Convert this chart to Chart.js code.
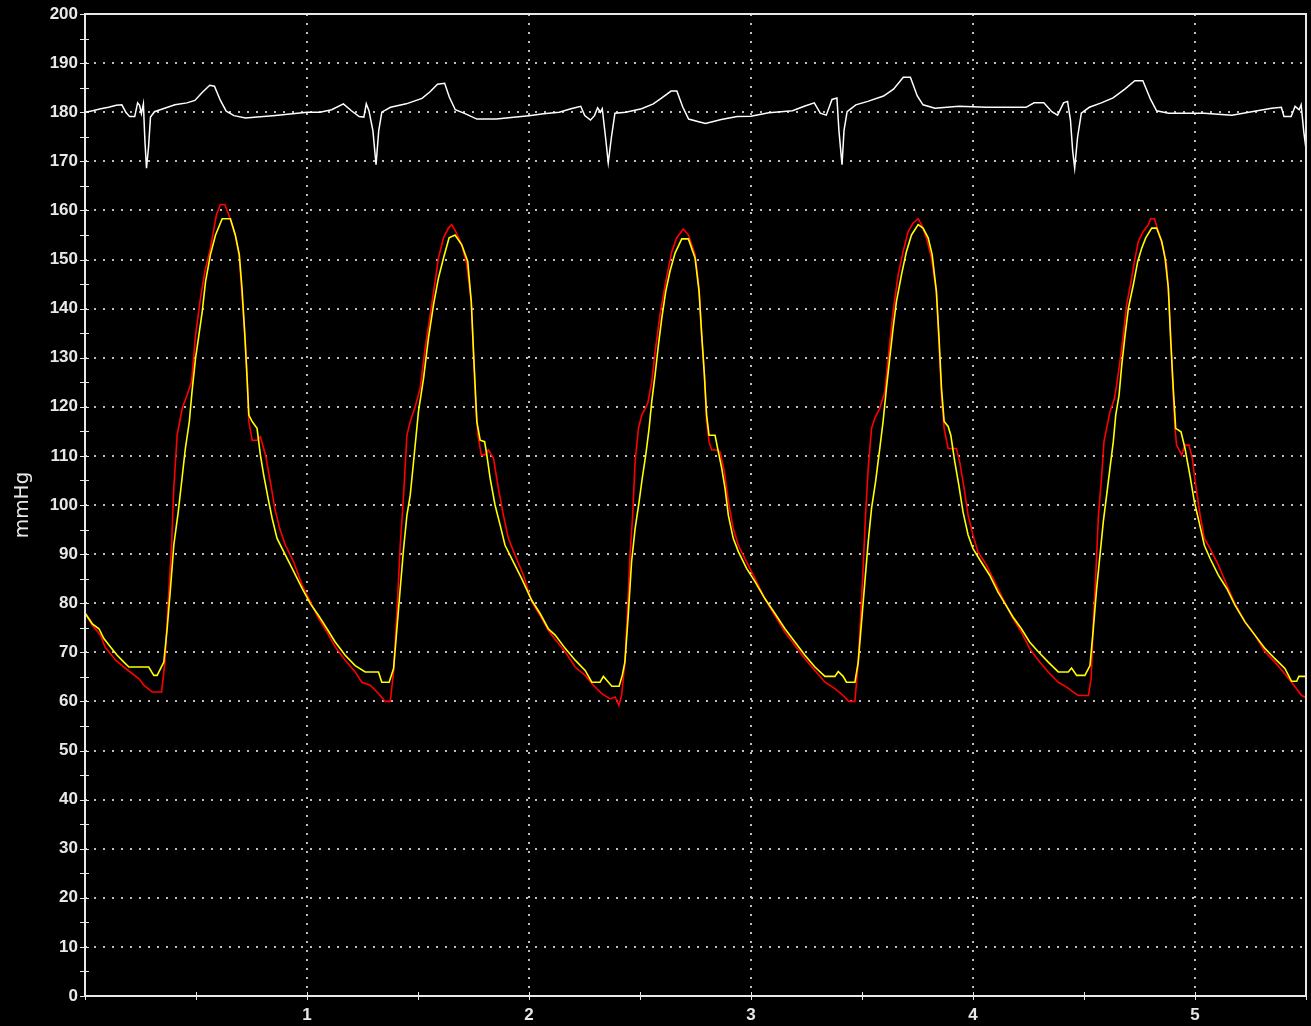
<!DOCTYPE html>
<html>
<head>
<meta charset="utf-8">
<title>mmHg</title>
<script src="https://cdn.jsdelivr.net/npm/chart.js@4.4.1/dist/chart.umd.min.js"></script>
<style>
  html, body { margin: 0; padding: 0; background: #000; }
  canvas { display: block; }
</style>
</head>
<body>
<canvas id="pressureChart" width="1311" height="1026"></canvas>
<script>
// ECG trace (white), seconds / mmHg scale
const ecgTime = [0, 0.035, 0.071, 0.106, 0.141, 0.166, 0.184, 0.201, 0.224, 0.237, 0.246, 0.254, 0.263, 0.27, 0.277, 0.286, 0.295, 0.313, 0.352, 0.405, 0.459, 0.495, 0.53, 0.562, 0.583, 0.61, 0.636, 0.671, 0.723, 0.776, 0.846, 0.935,
  1.0, 1.058, 1.111, 1.164, 1.2, 1.235, 1.256, 1.267, 1.279, 1.297, 1.311, 1.323, 1.337, 1.376, 1.447, 1.518, 1.553, 1.588, 1.62, 1.641, 1.668, 1.712, 1.765, 1.853, 1.942,
  2.0, 2.065, 2.136, 2.189, 2.233, 2.251, 2.277, 2.295, 2.309, 2.322, 2.33, 2.345, 2.357, 2.371, 2.387, 2.436, 2.507, 2.56, 2.595, 2.64, 2.666, 2.693, 2.719, 2.76, 2.795, 2.866, 2.938,
  3.0, 3.08, 3.187, 3.24, 3.285, 3.312, 3.339, 3.365, 3.387, 3.396, 3.41, 3.419, 3.433, 3.472, 3.526, 3.597, 3.642, 3.686, 3.718, 3.749, 3.775, 3.829, 3.936,
  4.061, 4.239, 4.275, 4.319, 4.355, 4.381, 4.408, 4.426, 4.439, 4.449, 4.458, 4.471, 4.488, 4.524, 4.578, 4.631, 4.684, 4.729, 4.765, 4.8, 4.827, 4.881, 4.952,
  5.041, 5.166, 5.255, 5.345, 5.389, 5.401, 5.433, 5.451, 5.469, 5.478, 5.49, 5.5];
const ecgValue = [180, 180.3, 180.7, 181, 181.4, 181.5, 180, 179.1, 179.1, 181.9, 181.4, 179.7, 181.7, 174.1, 168.6, 172.8, 179, 180.1, 180.7, 181.5, 181.9, 182.4, 184.1, 185.5, 185.3, 182.4, 180.2, 179.3, 178.8, 179, 179.3, 179.7,
  180, 180, 180.5, 181.7, 180.3, 179.1, 179, 181.7, 180.3, 176.2, 169.3, 176.2, 180, 181, 181.7, 182.8, 184.1, 185.7, 185.9, 183.1, 180.5, 179.7, 178.6, 178.6, 179,
  179.3, 179.7, 180, 180.7, 181.2, 179.3, 178.4, 179.3, 180.9, 180, 180.7, 174.8, 169.7, 174.8, 179.8, 180, 180.7, 181.7, 182.8, 184.3, 184.3, 181, 178.6, 178.1, 177.7, 178.5, 179.1,
  179.2, 179.9, 180.3, 181.2, 181.9, 179.8, 179.4, 182.6, 182.9, 176.3, 169.3, 176.3, 180.1, 181.5, 182.2, 183.3, 184.7, 187.1, 187.1, 183.3, 181.5, 180.8, 181.2,
  181, 181, 181.9, 181.9, 180.1, 179.4, 181.9, 182.2, 178.4, 172.1, 168.6, 174.9, 179.8, 181, 181.9, 182.9, 184.7, 186.4, 186.4, 182.6, 180.3, 179.8, 179.8,
  179.8, 179.4, 180.1, 180.8, 181, 179.1, 179.1, 181.2, 180.5, 181.5, 176, 172.5];

// red pressure trace
const redTime = [0, 0.033, 0.07, 0.09, 0.138, 0.183, 0.243, 0.265, 0.303, 0.345, 0.36, 0.375, 0.39, 0.4, 0.415, 0.438, 0.46, 0.48, 0.498, 0.52, 0.54, 0.565, 0.592, 0.61, 0.63, 0.65, 0.677, 0.695, 0.707, 0.72, 0.73, 0.738, 0.753, 0.775, 0.79, 0.813, 0.835, 0.855, 0.877, 0.903, 0.94, 0.978,
  1.015, 1.052, 1.09, 1.127, 1.172, 1.217, 1.247, 1.285, 1.322, 1.352, 1.375, 1.39, 1.405, 1.42, 1.435, 1.45, 1.465, 1.487, 1.51, 1.532, 1.555, 1.577, 1.592, 1.615, 1.637, 1.652, 1.67, 1.697, 1.72, 1.74, 1.75, 1.76, 1.77, 1.785, 1.802, 1.817, 1.84, 1.862, 1.885, 1.907, 1.937, 1.975,
  2.012, 2.05, 2.087, 2.118, 2.163, 2.208, 2.253, 2.29, 2.328, 2.365, 2.388, 2.405, 2.417, 2.432, 2.445, 2.455, 2.467, 2.478, 2.493, 2.508, 2.535, 2.553, 2.568, 2.59, 2.613, 2.643, 2.665, 2.695, 2.718, 2.748, 2.766, 2.778, 2.79, 2.8, 2.811, 2.823, 2.846, 2.861, 2.88, 2.898, 2.92, 2.943, 2.98,
  3.018, 3.063, 3.108, 3.153, 3.198, 3.243, 3.288, 3.333, 3.378, 3.415, 3.44, 3.468, 3.483, 3.495, 3.505, 3.516, 3.528, 3.543, 3.558, 3.58, 3.603, 3.618, 3.64, 3.663, 3.685, 3.708, 3.73, 3.753, 3.768, 3.79, 3.813, 3.835, 3.847, 3.858, 3.87, 3.888, 3.925, 3.94, 3.96, 3.978,
  4.0, 4.022, 4.06, 4.097, 4.135, 4.18, 4.218, 4.255, 4.294, 4.339, 4.384, 4.422, 4.452, 4.474, 4.52, 4.532, 4.542, 4.553, 4.565, 4.58, 4.59, 4.602, 4.617, 4.637, 4.647, 4.662, 4.677, 4.692, 4.712, 4.73, 4.745, 4.767, 4.79, 4.8, 4.817, 4.835, 4.857, 4.872, 4.883, 4.892, 4.902, 4.91, 4.917, 4.94, 4.955, 4.973, 4.988,
  5.003, 5.023, 5.042, 5.068, 5.105, 5.143, 5.18, 5.225, 5.27, 5.315, 5.36, 5.398, 5.435, 5.48, 5.5];
const redValue = [78, 75.5, 73.5, 71.1, 68.4, 66.7, 64.6, 63.3, 61.9, 61.9, 68, 80.3, 91.8, 103.4, 114.2, 119.7, 122.4, 125.1, 134.6, 142.1, 147.6, 152.3, 159.1, 161.2, 161.2, 158.8, 155, 150.6, 142.8, 134.6, 126.5, 117, 113.2, 113.2, 113.9, 110.2, 104.7, 99.3, 95.2, 91.8, 88.4, 83.7,
  80.3, 76.9, 74.1, 71.1, 68.4, 66, 63.9, 63.3, 61.6, 60, 60, 66, 78.2, 91.8, 102, 114.2, 117, 120, 123.8, 131.9, 138.7, 145.5, 150.3, 154.4, 156.4, 157.1, 155.7, 153, 148.9, 141.4, 130.6, 120.4, 114.2, 110.2, 110.2, 111.2, 109.5, 103.4, 97.9, 93.2, 89.8, 85.7,
  80.3, 77.5, 74.5, 72.6, 70.1, 67, 65.3, 63.3, 61.6, 60.5, 60.9, 59.2, 61.2, 68, 79.6, 89.8, 97.9, 108.8, 115.6, 118.3, 120.7, 125.1, 131.2, 138.7, 144.8, 151.6, 154.4, 156.2, 155, 151, 144.2, 134.6, 126.5, 117, 112.9, 111.2, 111.2, 110.8, 106.8, 100.7, 95.2, 91.8, 88.4,
  85, 80.9, 77.5, 74.1, 71.4, 68.7, 66.3, 63.9, 62.6, 61.2, 60, 60, 68, 78.2, 87.1, 97.9, 107.5, 115.6, 117.7, 119.7, 123.1, 129.9, 139.4, 146.9, 151.6, 155.7, 157.4, 158.3, 157.1, 154.4, 150.3, 143.5, 132.6, 122.4, 115.6, 111.5, 111.5, 108.8, 103.4, 97.9,
  93.9, 90.5, 87.8, 84.4, 80.9, 76.9, 74.1, 70.8, 68.4, 66, 63.9, 62.9, 61.9, 61.2, 61.2, 64.6, 76.2, 85.7, 97.9, 106.1, 112.9, 115.6, 119, 121.7, 124.4, 129.2, 134.6, 140.8, 145.5, 150.3, 153.7, 155.7, 157.1, 158.3, 158.3, 155.7, 152.3, 148.9, 141.4, 133.3, 122.4, 115.6, 112.2, 110.2, 112.2, 112.2, 109.5,
  104.1, 97.9, 93.2, 91.1, 87.8, 83.7, 79.9, 76.2, 73.5, 70.1, 68, 66, 63.9, 61.2, 60.8];

// yellow pressure trace
const yellowTime = [0, 0.033, 0.063, 0.085, 0.115, 0.145, 0.175, 0.198, 0.287, 0.31, 0.325, 0.355, 0.37, 0.385, 0.4, 0.42, 0.437, 0.452, 0.47, 0.482, 0.498, 0.513, 0.528, 0.543, 0.565, 0.588, 0.618, 0.655, 0.677, 0.695, 0.707, 0.72, 0.73, 0.738, 0.753, 0.775, 0.79, 0.805, 0.825, 0.843, 0.865, 0.895, 0.933, 0.978,
  1.015, 1.052, 1.09, 1.127, 1.172, 1.217, 1.262, 1.322, 1.337, 1.37, 1.39, 1.405, 1.42, 1.435, 1.45, 1.465, 1.48, 1.502, 1.525, 1.547, 1.57, 1.592, 1.615, 1.64, 1.667, 1.697, 1.724, 1.74, 1.75, 1.765, 1.78, 1.8, 1.81, 1.825, 1.847, 1.87, 1.892, 1.922, 1.967,
  2.012, 2.05, 2.087, 2.118, 2.163, 2.208, 2.253, 2.283, 2.32, 2.335, 2.358, 2.373, 2.406, 2.42, 2.432, 2.447, 2.462, 2.478, 2.496, 2.51, 2.526, 2.541, 2.553, 2.568, 2.583, 2.598, 2.616, 2.635, 2.658, 2.688, 2.718, 2.748, 2.766, 2.778, 2.79, 2.8, 2.811, 2.838, 2.85, 2.868, 2.883, 2.898, 2.92, 2.943, 2.98,
  3.018, 3.063, 3.108, 3.153, 3.198, 3.243, 3.288, 3.333, 3.378, 3.393, 3.415, 3.43, 3.468, 3.483, 3.498, 3.513, 3.528, 3.543, 3.561, 3.58, 3.595, 3.61, 3.625, 3.64, 3.655, 3.678, 3.7, 3.723, 3.753, 3.775, 3.798, 3.816, 3.835, 3.847, 3.858, 3.87, 3.888, 3.9, 3.918, 3.936, 3.955, 3.978,
  4.0, 4.037, 4.075, 4.112, 4.144, 4.18, 4.218, 4.255, 4.294, 4.339, 4.384, 4.429, 4.444, 4.467, 4.504, 4.527, 4.542, 4.557, 4.572, 4.587, 4.602, 4.617, 4.632, 4.643, 4.658, 4.67, 4.685, 4.7, 4.722, 4.742, 4.76, 4.778, 4.805, 4.827, 4.85, 4.865, 4.88, 4.89, 4.902, 4.913, 4.937, 4.955, 4.977, 4.997,
  5.018, 5.042, 5.068, 5.105, 5.143, 5.18, 5.225, 5.27, 5.315, 5.36, 5.405, 5.435, 5.458, 5.468, 5.5];
const yellowValue = [78, 75.8, 74.8, 72.8, 71.1, 69.4, 68, 67, 67, 65.3, 65.3, 68, 74.8, 83, 91.8, 98.6, 105.4, 111.5, 117, 123.1, 129.9, 134.6, 139.4, 145.5, 151, 155, 158.3, 158.3, 155, 151, 144.2, 134.6, 125.8, 118.3, 117, 115.6, 110.2, 106.1, 101.3, 97.3, 93.2, 90.5, 87.1, 83,
  79.9, 77.5, 74.8, 72.1, 69.4, 67.3, 66, 66, 63.9, 63.9, 66.7, 74.8, 83, 91.1, 97.9, 102, 108.8, 119, 125.8, 134, 140.8, 146.2, 150.3, 154.4, 155, 153, 149.6, 141.4, 131.2, 117, 113.2, 112.9, 110.2, 105.4, 100, 95.9, 91.8, 89.1, 85,
  80.6, 77.9, 74.8, 73.5, 70.8, 68.4, 66.3, 63.9, 63.9, 65.1, 63.9, 63.1, 63.1, 65.3, 68, 77.5, 88.4, 95.2, 100.7, 105.4, 110.2, 115.6, 121.1, 126.5, 132.6, 138, 143.5, 147.6, 151.3, 154.2, 154.2, 150.3, 143.5, 134.6, 126.5, 118.3, 114.2, 114.2, 111.5, 107.5, 103.4, 97.9, 93.2, 90.5, 87.1,
  84.4, 80.9, 77.9, 74.8, 72.1, 69.4, 67, 65.1, 65.1, 66.1, 65.1, 63.9, 63.9, 68, 76.2, 84.4, 92.5, 99.3, 104.7, 111.5, 117, 123.8, 129.9, 136, 141.4, 146.9, 151.6, 155, 157.1, 156.4, 154.4, 151, 143.5, 134, 123.8, 117, 116, 114.2, 108.8, 104.1, 98.6, 93.9,
  91.1, 88.4, 85.7, 82.3, 79.9, 77.2, 74.8, 72.1, 70.1, 68, 66, 66, 66.8, 65.3, 65.3, 67.3, 74.8, 83, 89.8, 96.6, 102, 107.5, 112.9, 118.3, 122.4, 128.5, 134.6, 140.1, 144.8, 149.6, 152.3, 154.4, 156.4, 156.4, 153.7, 150.3, 144.2, 134, 123.8, 115.6, 114.9, 111.5, 106.1, 100.7,
  96.6, 91.8, 89.1, 85.7, 83, 79.6, 76.2, 73.5, 70.8, 68.7, 66.7, 64.1, 64.1, 65.1, 65.1];

// axis setup
const xMin = 0, xMax = 5.5, xStep = 0.5;
const yMin = 0, yMax = 200, yStep = 5;
const yTitle = "mmHg";

function toPoints(times, values) {
  return times.map((t, i) => ({ x: t, y: values[i] }));
}
function isWhole(v, n) {
  return Math.abs(v / n - Math.round(v / n)) < 1e-6;
}

const axisColor = "#e8e8e8";
const gridColor = "#bdbdbd";
const tickFont = { family: "'Liberation Sans', Arial, sans-serif", size: 17, weight: "bold" };

// tick marks crossing the axes, plus the white frame
const frameAndTicks = {
  id: "frameAndTicks",
  afterDraw(chart) {
    const { ctx, chartArea: a, scales: { x, y } } = chart;
    ctx.save();
    ctx.strokeStyle = axisColor;
    ctx.lineWidth = 1;
    ctx.beginPath();
    y.ticks.forEach(t => {
      const py = Math.round(y.getPixelForValue(t.value)) + 0.5;
      ctx.moveTo(a.left - 5, py);
      ctx.lineTo(a.left + 4, py);
    });
    x.ticks.forEach(t => {
      const px = Math.round(x.getPixelForValue(t.value)) + 0.5;
      ctx.moveTo(px, a.bottom - 4);
      ctx.lineTo(px, a.bottom + 4);
    });
    ctx.stroke();
    ctx.lineWidth = 2;
    ctx.strokeRect(Math.round(a.left), Math.round(a.top), Math.round(a.right - a.left), Math.round(a.bottom - a.top));
    ctx.restore();
  }
};

const ctx = document.getElementById("pressureChart").getContext("2d");
const chart = new Chart(ctx, {
  type: "line",
  data: {
    datasets: [
      { label: "ECG", data: toPoints(ecgTime, ecgValue), borderColor: "#ffffff", borderWidth: 1.5 },
      { label: "Pressure 2", data: toPoints(yellowTime, yellowValue), borderColor: "#ffff00", borderWidth: 1.6 },
      { label: "Pressure 1", data: toPoints(redTime, redValue), borderColor: "#ff0000", borderWidth: 1.6 }
    ]
  },
  options: {
    responsive: false,
    devicePixelRatio: 1,
    animation: false,
    elements: { point: { radius: 0 }, line: { tension: 0, fill: false } },
    layout: { padding: { top: 14, right: 5, left: 0, bottom: 0 } },
    plugins: { legend: { display: false }, tooltip: { enabled: false } },
    scales: {
      x: {
        type: "linear",
        min: xMin,
        max: xMax,
        afterFit(scale) {
          scale.height = 30;
          scale.paddingLeft = 0;
          scale.paddingRight = 0;
        },
        ticks: {
          stepSize: xStep,
          autoSkip: false,
          maxRotation: 0,
          padding: 9,
          color: axisColor,
          font: tickFont,
          callback: v => (isWhole(v, 1) && v > 0 && v < xMax ? String(Math.round(v)) : "")
        },
        grid: {
          drawTicks: false,
          lineWidth: 2,
          color: c => (isWhole(c.tick.value, 1) && c.tick.value > 0 && c.tick.value < xMax ? gridColor : "transparent")
        },
        border: { display: false, dash: [2, 7] }
      },
      y: {
        type: "linear",
        min: yMin,
        max: yMax,
        afterFit(scale) {
          scale.width = 85;
          scale.paddingTop = 0;
          scale.paddingBottom = 0;
        },
        title: {
          display: true,
          text: yTitle,
          color: axisColor,
          padding: { top: 11, bottom: 0 },
          font: { family: "'DejaVu Sans', sans-serif", size: 20 }
        },
        ticks: {
          stepSize: yStep,
          autoSkip: false,
          padding: 7,
          color: axisColor,
          font: tickFont,
          callback: v => (isWhole(v, 10) ? String(v) : "")
        },
        grid: {
          drawTicks: false,
          lineWidth: 2,
          color: c => (isWhole(c.tick.value, 10) && c.tick.value > yMin && c.tick.value < yMax ? gridColor : "transparent")
        },
        border: { display: false, dash: [2, 7] }
      }
    }
  },
  plugins: [frameAndTicks]
});
</script>
</body>
</html>
